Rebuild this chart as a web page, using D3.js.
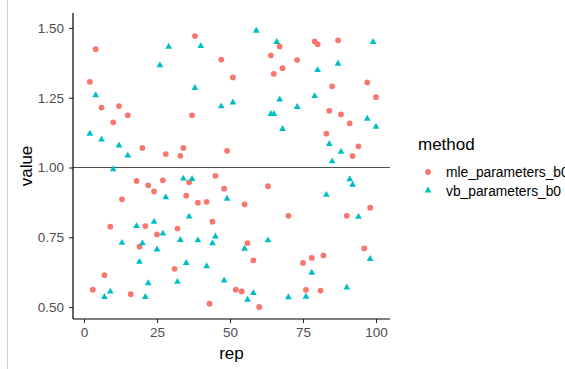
<!DOCTYPE html>
<html>
<head>
<meta charset="utf-8">
<script src="https://cdn.jsdelivr.net/npm/d3@7"></script>
<style>
  html, body { margin: 0; padding: 0; background: #fff; overflow: hidden; }
  svg { display: block; font-family: 'Liberation Sans', Arial, sans-serif; }
</style>
</head>
<body>
<svg id="chart" width="565" height="369"></svg>
<script>
// values
const mleRep = [2, 3, 4, 6, 7, 9, 10, 12, 13, 15, 16, 18, 19, 20, 21, 22, 24, 25, 27, 28,
  31, 32, 33, 34, 35, 36, 37, 38, 39, 42, 43, 44, 45, 47, 48, 49, 51, 52, 54, 55,
  56, 58, 60, 63, 64, 65, 67, 68, 70, 73, 75, 76, 78, 79, 80, 81, 82, 83, 84, 85,
  87, 88, 90, 91, 92, 94, 96, 97, 98, 100]
const mleValue = [1.307, 0.562, 1.424, 1.215, 0.614, 0.788, 1.162, 1.22, 0.886, 1.187, 0.546, 0.952, 0.716, 1.07, 0.79, 0.936, 0.914, 0.76, 0.954, 1.048,
  0.637, 0.781, 1.042, 1.07, 0.899, 0.947, 1.187, 1.471, 0.874, 0.877, 0.512, 0.806, 0.97, 1.387, 0.924, 1.06, 1.323, 0.562, 0.556, 0.868,
  0.729, 0.667, 0.5, 0.933, 1.402, 1.336, 1.434, 1.356, 0.827, 1.385, 0.658, 0.561, 0.676, 1.452, 1.442, 0.559, 0.685, 1.121, 1.203, 1.291,
  1.456, 1.19, 0.827, 1.158, 1.041, 1.076, 0.71, 1.305, 0.856, 1.252]

const vbRep = [2, 4, 6, 7, 9, 10, 12, 13, 15, 18, 19, 20, 21, 22, 24, 25, 26, 27, 28, 29,
  32, 33, 34, 35, 36, 37, 38, 39, 40, 42, 44, 45, 47, 48, 49, 51, 55, 56, 58, 59,
  63, 64, 65, 66, 67, 68, 70, 73, 76, 78, 79, 80, 83, 84, 85, 87, 88, 90, 91, 92,
  94, 97, 98, 99, 100]
const vbValue = [1.121, 1.259, 1.1, 0.536, 0.555, 0.994, 1.079, 0.73, 1.043, 0.79, 0.662, 0.728, 0.536, 0.585, 0.805, 0.706, 1.366, 0.763, 0.893, 1.433,
  0.59, 0.74, 0.96, 0.658, 0.824, 0.959, 1.285, 0.739, 1.435, 0.646, 0.728, 0.753, 1.219, 0.595, 0.888, 1.233, 0.709, 0.526, 0.55, 1.49,
  0.739, 1.192, 1.192, 1.45, 1.244, 1.138, 0.535, 1.217, 0.537, 0.623, 1.256, 1.349, 0.902, 1.084, 1.022, 1.372, 1.056, 0.57, 0.958, 0.938,
  0.823, 1.175, 0.672, 1.45, 1.146]

const methods = ['mle_parameters_b0', 'vb_parameters_b0']
const methodColors = ['#F8766D', '#00BFC4']
const xTicks = [0, 25, 50, 75, 100]
const yTicks = [0.5, 0.75, 1.0, 1.25, 1.5]
const refLine = 1.0

const svg = d3.select('#chart')

// left edge of the original screenshot frame
svg.append('line')
  .attr('x1', 7.5).attr('x2', 7.5).attr('y1', 0).attr('y2', 369)
  .attr('stroke', '#d4d4d4').attr('stroke-width', 1)

const x = d3.scaleLinear().domain([0, 100]).range([84, 376])
const y = d3.scaleLinear().domain([0.5, 1.5]).range([307, 28])

const panel = { left: 73, right: 390, top: 13, bottom: 319 }

const colorScale = d3.scaleOrdinal().domain(methods).range(methodColors)

const points = [
  ...mleRep.map((r, i) => ({ rep: r, value: mleValue[i], method: methods[0] })),
  ...vbRep.map((r, i) => ({ rep: r, value: vbValue[i], method: methods[1] })),
]

const circle = d3.symbol().type(d3.symbolCircle).size(26)
const triangle = d3.symbol().type(d3.symbolTriangle).size(20)
const shapeFor = (m) => (m === methods[0] ? circle() : triangle())

// reference line at 1
svg.append('line')
  .attr('x1', panel.left).attr('x2', panel.right)
  .attr('y1', y(refLine)).attr('y2', y(refLine))
  .attr('stroke', '#4d4d4d').attr('stroke-width', 1)

svg.append('g')
  .selectAll('path')
  .data(points)
  .join('path')
  .attr('d', (d) => shapeFor(d.method))
  .attr('transform', (d) => `translate(${x(d.rep)},${y(d.value)})`)
  .attr('fill', (d) => colorScale(d.method))

// axes
const xAxis = svg.append('g')
  .attr('transform', `translate(0,${panel.bottom})`)
  .call(d3.axisBottom(x).tickValues(xTicks).tickSize(4).tickPadding(4).tickFormat(d3.format('d')))
xAxis.select('.domain').remove()
xAxis.append('line')
  .attr('x1', panel.left).attr('x2', panel.right)
  .attr('stroke', '#000').attr('stroke-width', 1.2)

const yAxis = svg.append('g')
  .attr('transform', `translate(${panel.left},0)`)
  .call(d3.axisLeft(y).tickValues(yTicks).tickSize(4).tickPadding(5).tickFormat(d3.format('.2f')))
yAxis.select('.domain').remove()
yAxis.append('line')
  .attr('y1', panel.top).attr('y2', panel.bottom)
  .attr('stroke', '#000').attr('stroke-width', 1.2)

svg.selectAll('.tick line').attr('stroke', '#333').attr('stroke-width', 1.1)
svg.selectAll('.tick text')
  .attr('fill', '#4d4d4d')
  .style('font-size', '13.5px')
  .style('font-family', "'Liberation Sans', Arial, sans-serif")

// axis titles
svg.append('text')
  .attr('x', (panel.left + panel.right) / 2)
  .attr('y', 359)
  .attr('text-anchor', 'middle')
  .style('font-size', '17px')
  .attr('fill', '#000')
  .text('rep')

svg.append('text')
  .attr('transform', `translate(32,${(panel.top + panel.bottom) / 2}) rotate(-90)`)
  .attr('text-anchor', 'middle')
  .style('font-size', '17px')
  .attr('fill', '#000')
  .text('value')

// legend
const legend = svg.append('g').attr('transform', 'translate(418,0)')
legend.append('text')
  .attr('x', 0).attr('y', 150)
  .style('font-size', '17px')
  .attr('fill', '#000')
  .text('method')

const item = legend.selectAll('g.item')
  .data(methods)
  .join('g')
  .attr('class', 'item')
  .attr('transform', (d, i) => `translate(0,${172 + i * 18.5})`)

item.append('path')
  .attr('d', (d) => shapeFor(d))
  .attr('transform', 'translate(10,0)')
  .attr('fill', (d) => colorScale(d))

item.append('text')
  .attr('x', 28).attr('y', 5)
  .style('font-size', '13.8px')
  .attr('fill', '#000')
  .text((d) => d)
</script>
</body>
</html>
